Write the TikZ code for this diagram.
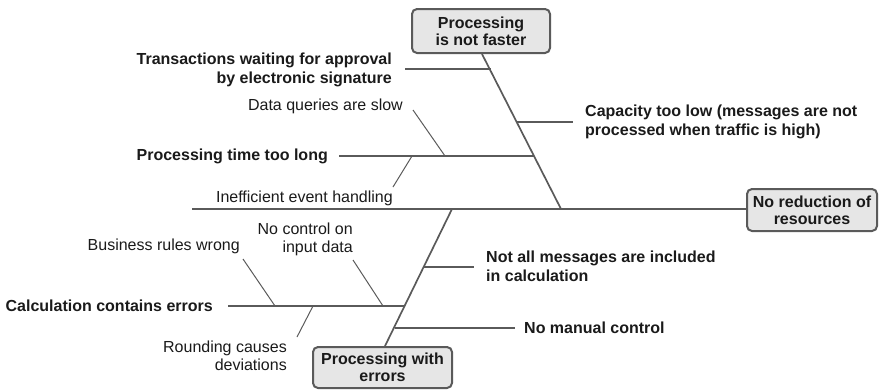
\documentclass[tikz,border=0pt]{standalone}
\usepackage{fontspec}
\setmainfont{Liberation Sans}
\definecolor{bone}{HTML}{5A5A5A}
\definecolor{boxfill}{HTML}{E6E6E6}
\definecolor{txt}{HTML}{1A1A1A}
\begin{document}
\begin{tikzpicture}[x=1pt,y=-1pt,
  effect/.style={draw=bone,line width=2pt,fill=boxfill,rounded corners=5pt,
    minimum width=138pt,font=\fontsize{16}{17}\selectfont\bfseries,align=center,text=txt,inner sep=0pt},
  cause/.style={font=\fontsize{16}{19}\selectfont\bfseries,text=txt,inner sep=0pt},
  sub/.style={font=\fontsize{16}{18}\selectfont,text=txt,inner sep=0pt},
  bonel/.style={draw=bone,line width=1.7pt},
  subl/.style={draw=bone,line width=1pt}]
\useasboundingbox (0,0) rectangle (883,389);

% effect boxes
\node[effect,minimum width=138pt,minimum height=44pt] (top) at (481,31) {Processing\\is not faster};
\node[effect,minimum width=130pt,minimum height=42pt] (right) at (812,210) {No reduction of\\resources};
\node[effect,minimum width=139pt,minimum height=41pt] (bot) at (382.5,367.5) {Processing with\\errors};

% spine
\coordinate (spineL) at (192,209);
\draw[bonel] (spineL) -- (right.west |- spineL);

% upper bone
\coordinate (ub0) at (482,53);
\coordinate (ub1) at (561,209);
\draw[bonel] (top.south -| ub0) -- (ub1);
\coordinate (ubT) at (490.6,69);
\coordinate (ubC) at (517.2,122);
\coordinate (ubP) at (534.4,156);

% lower bone
\coordinate (lb0) at (452,209);
\coordinate (lb1) at (385,347);
\draw[bonel] (lb0) -- (bot.north -| lb1);
\coordinate (lbN) at (423.6,267);
\coordinate (lbC) at (404.7,306);
\coordinate (lbM) at (394.5,328);

% upper causes
\node[cause,anchor=east,align=right] (trans) at (392,70) {Transactions waiting for approval\\by electronic signature};
\coordinate (transE) at (405,69);
\draw[bonel] (transE) -- (ubT);

\node[cause,anchor=west,align=left] (cap) at (585,122) {Capacity too low (messages are not\\processed when traffic is high)};
\coordinate (capE) at (573,122);
\draw[bonel] (ubC) -- (capE);

\node[cause,anchor=east] (ptime) at (328,156) {Processing time too long};
\coordinate (ptimeE) at (339,156);
\draw[bonel] (ptimeE) -- (ubP);

\node[sub,anchor=east] (dq) at (403,106) {Data queries are slow};
\coordinate (dqA) at (413,110);
\coordinate (dqB) at (445,156);
\draw[subl] (dqA) -- (dqB);

\node[sub,anchor=east] (ineff) at (393,198) {Inefficient event handling};
\coordinate (inA) at (412,156);
\coordinate (inB) at (393,187);
\draw[subl] (inA) -- (inB);

% lower causes
\node[cause,anchor=west,align=left] (notall) at (486,266) {Not all messages are included\\in calculation};
\coordinate (notallE) at (474,267);
\draw[bonel] (lbN) -- (notallE);

\node[cause,anchor=west] (manual) at (524,328) {No manual control};
\coordinate (manualE) at (515,328);
\draw[bonel] (lbM) -- (manualE);

\node[cause,anchor=east] (calc) at (213,306) {Calculation contains errors};
\coordinate (calcE) at (228,306);
\draw[bonel] (calcE) -- (lbC);

\node[sub,anchor=east] (brw) at (240,246) {Business rules wrong};
\coordinate (brA) at (243,259);
\coordinate (brB) at (275,306);
\draw[subl] (brA) -- (brB);

\node[sub,anchor=east,align=right] (ncid) at (353,239) {No control on\\input data};
\coordinate (ncA) at (353,260);
\coordinate (ncB) at (383,306);
\draw[subl] (ncA) -- (ncB);

\node[sub,anchor=east,align=right] (round) at (287,356) {Rounding causes\\deviations};
\coordinate (rdA) at (313,306);
\coordinate (rdB) at (297,337);
\draw[subl] (rdA) -- (rdB);
\end{tikzpicture}
\end{document}
